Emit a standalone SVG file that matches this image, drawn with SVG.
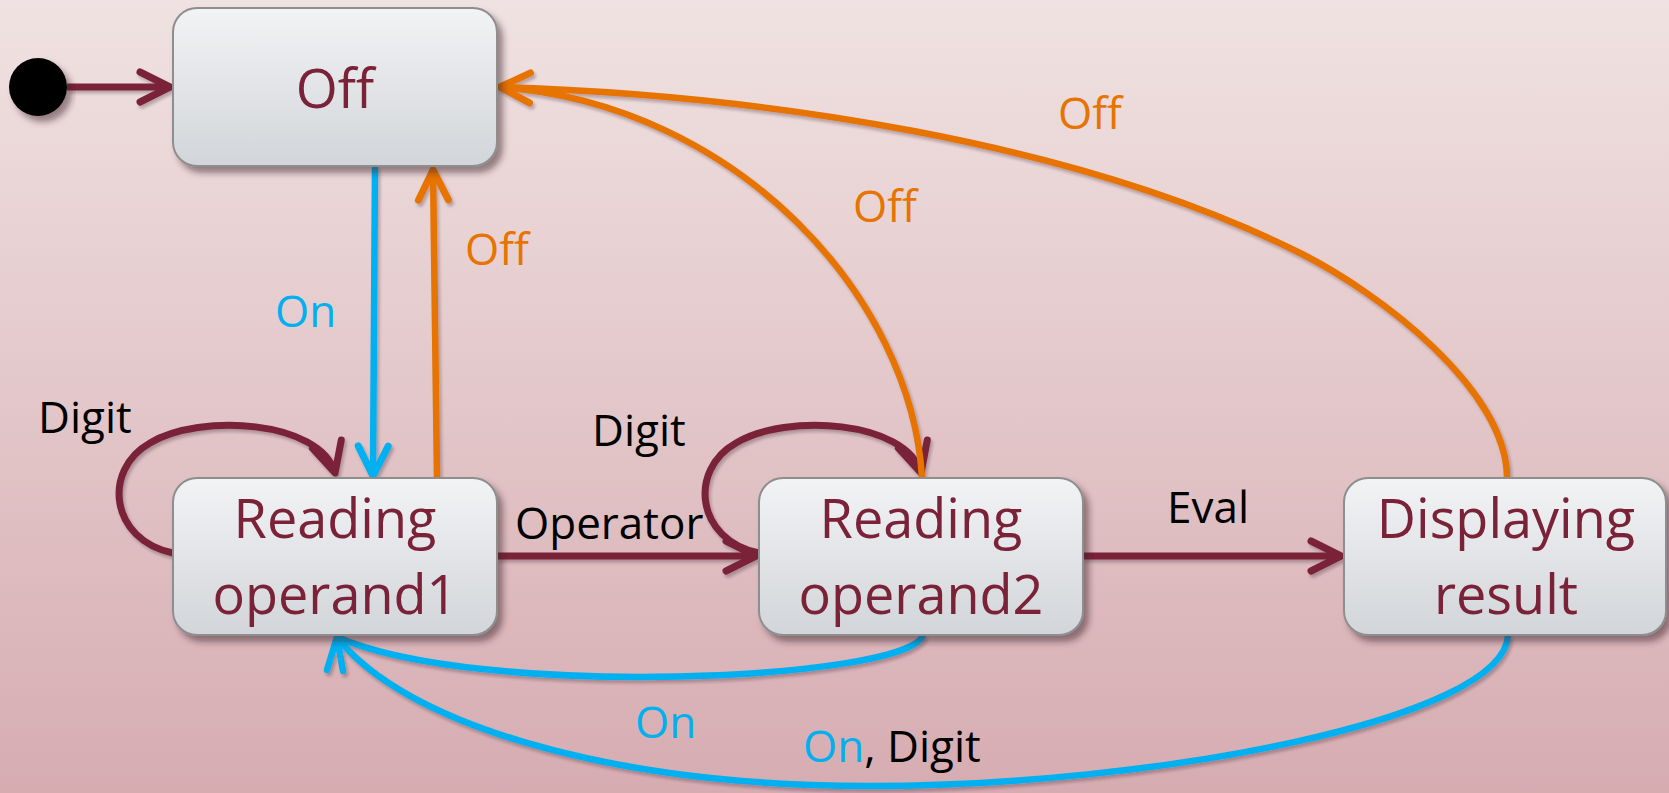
<svg xmlns="http://www.w3.org/2000/svg" width="1669" height="793" viewBox="0 0 1669 793">
<defs>
<linearGradient id="bg" x1="0" y1="0" x2="0" y2="1">
<stop offset="0" stop-color="#f0e2e2"/>
<stop offset="1" stop-color="#d6acb1"/>
</linearGradient>
<linearGradient id="box" x1="0" y1="0" x2="0" y2="1">
<stop offset="0" stop-color="#f2f3f5"/>
<stop offset="1" stop-color="#d2d5d9"/>
</linearGradient>
<filter id="sh" x="-10%" y="-10%" width="125%" height="130%">
<feDropShadow dx="5" dy="6" stdDeviation="3" flood-color="#3a2025" flood-opacity="0.5"/>
</filter>
<filter id="lsh" x="-5%" y="-5%" width="110%" height="115%">
<feDropShadow dx="2" dy="3" stdDeviation="1.5" flood-color="#3a2025" flood-opacity="0.3"/>
</filter>
<marker id="am" markerUnits="userSpaceOnUse" markerWidth="80" markerHeight="80" refX="0" refY="0" orient="auto" overflow="visible">
<path d="M-30,-15 L0,0 L-30,15" fill="none" stroke="#7a2238" stroke-width="7" stroke-linecap="round" stroke-linejoin="round"/>
</marker>
<marker id="ab" markerUnits="userSpaceOnUse" markerWidth="80" markerHeight="80" refX="0" refY="0" orient="auto" overflow="visible">
<path d="M-30,-15 L0,0 L-30,15" fill="none" stroke="#00b0f0" stroke-width="7" stroke-linecap="round" stroke-linejoin="round"/>
</marker>
<marker id="ao" markerUnits="userSpaceOnUse" markerWidth="80" markerHeight="80" refX="0" refY="0" orient="auto" overflow="visible">
<path d="M-30,-15 L0,0 L-30,15" fill="none" stroke="#e77300" stroke-width="7" stroke-linecap="round" stroke-linejoin="round"/>
</marker>
</defs>
<style>
.node rect { fill: url(#box); stroke: #8e8e8e; stroke-width: 2; filter: url(#sh); }
.nt { font-family: 'Open Sans', 'Liberation Sans', sans-serif; font-size: 54px; fill: #7a2238; text-anchor: middle; }
.el { font-family: 'Open Sans', 'Liberation Sans', sans-serif; font-size: 44px; fill: #000; }
.m { fill: none; stroke: #7a2238; stroke-width: 7; }
.b { fill: none; stroke: #00b0f0; stroke-width: 6.5; }
.o { fill: none; stroke: #e77300; stroke-width: 6.5; }
.blue { fill: #00b0f0; }
.orange { fill: #e77300; }
</style>
<rect x="0" y="0" width="1669" height="793" fill="url(#bg)"/>

<g id="connectors" filter="url(#lsh)">
<path class="m" d="M67,87 L170,87" marker-end="url(#am)"/>
<path class="m" d="M173,553 C110,540 102,470 150,443 C200,413 320,420 335,473" marker-end="url(#am)"/>
<path class="m" d="M759,553 C696,540 688,470 736,443 C786,413 906,420 921,473" marker-end="url(#am)"/>
<path class="m" d="M497,556 L756,556" marker-end="url(#am)"/>
<path class="m" d="M1083,556 L1341,556" marker-end="url(#am)"/>
<path class="b" d="M375,166 L373,476" marker-end="url(#ab)"/>
<path class="o" d="M437,478 L433,170" marker-end="url(#ao)"/>
<path class="o" d="M922,478 C912,300 740,105 500,87"/>
<path class="o" d="M1507,478 C1507,390 1380,293 1300,253 C1076,141 760,95 500,87" marker-end="url(#ao)"/>
<path class="b" d="M923,635 C910,680 480,700 337,637"/>
<path class="b" d="M1508,635 C1505,720 1150,786 870,786 C600,786 400,720 337,637"/>
<path class="b" d="M327,670 L337,637 L343,671" stroke-width="7" stroke-linecap="round" stroke-linejoin="round"/>
</g>

<g id="initial">
<circle cx="38" cy="87" r="29" fill="#000" filter="url(#sh)"/>
</g>

<g id="off" class="node">
<rect x="173" y="8" width="324" height="158" rx="24"/>
<text class="nt" x="335" y="108">Off</text>
</g>
<g id="reading1" class="node">
<rect x="173" y="478" width="324" height="157" rx="24"/>
<text class="nt" x="335" y="538">Reading</text>
<text class="nt" x="335" y="614">operand1</text>
</g>
<g id="reading2" class="node">
<rect x="759" y="478" width="324" height="157" rx="24"/>
<text class="nt" x="921" y="538">Reading</text>
<text class="nt" x="921" y="614">operand2</text>
</g>
<g id="displaying" class="node">
<rect x="1344" y="478" width="322" height="157" rx="24"/>
<text class="nt" x="1506" y="538">Displaying</text>
<text class="nt" x="1506" y="614">result</text>
</g>

<g id="labels">
<text class="el" x="38" y="433">Digit</text>
<text class="el blue" x="275" y="327">On</text>
<text class="el orange" x="465" y="265">Off</text>
<text class="el orange" x="853" y="222">Off</text>
<text class="el orange" x="1058" y="129">Off</text>
<text class="el" x="592" y="446">Digit</text>
<text class="el" x="515" y="539">Operator</text>
<text class="el" x="1167" y="523">Eval</text>
<text class="el blue" x="635" y="738">On</text>
<text class="el" x="803" y="762"><tspan class="blue">On</tspan>, Digit</text>
</g>
</svg>
